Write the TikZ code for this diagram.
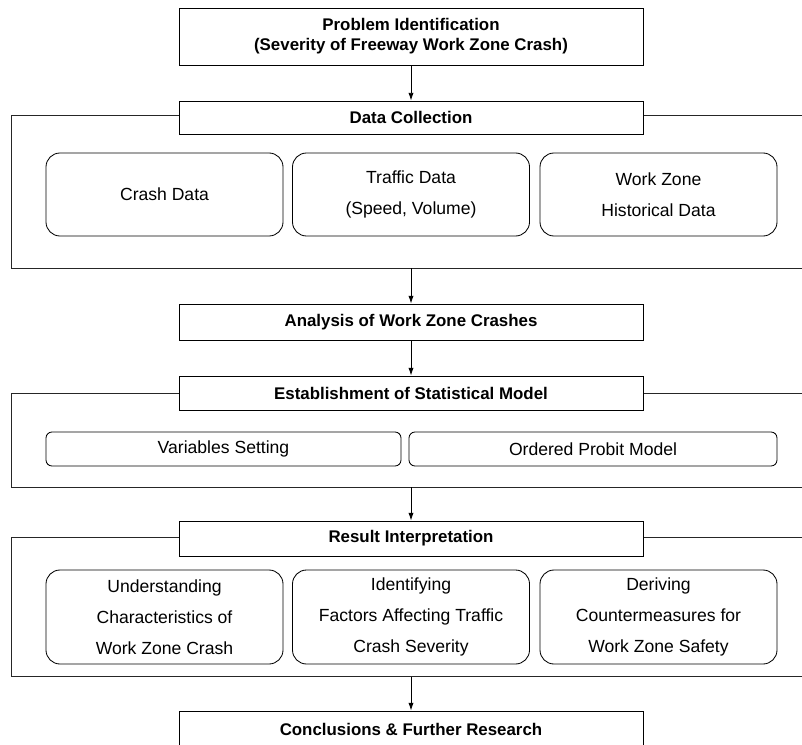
\documentclass[tikz,border=0pt]{standalone}
\usepackage{fontspec}
\setmainfont{Liberation Sans}
\usetikzlibrary{arrows.meta,positioning}

\begin{document}
\begin{tikzpicture}[x=0.25mm, y=-0.25mm, every node/.style={align=center,inner sep=0pt},
  box/.style={draw=black,fill=white,line width=0.7pt,minimum width=116mm,font=\fontsize{12}{14.2}\selectfont\bfseries},
  sub/.style={draw=black,fill=white,line width=0.6pt,rounded corners=3.5mm,minimum width=59.25mm,font=\fontsize{12.5}{22}\selectfont},
  grp/.style={draw=black!85,line width=0.7pt,minimum width=199.5mm},
  arr/.style={-{Latex[length=1.9mm,width=1.3mm]},line width=0.6pt}]
  \path[use as bounding box,clip] (0,0) rectangle (802,744);
  % group frames
  \node[grp,minimum height=38.25mm] (dcgrp) at (411,191.5) {};
  \node[grp,minimum height=23.5mm] (smgrp) at (411,440) {};
  \node[grp,minimum height=34.75mm] (rigrp) at (411,606.5) {};
  % main steps
  \node[box,minimum height=14.25mm] (prob) at (411,36.5) {Problem Identification\\(Severity of Freeway Work Zone Crash)};
  \node[box,minimum height=8.25mm] (collect) at (411,117.5) {Data Collection};
  \node[box,minimum height=9mm] (analysis) at (411,322) {Analysis of Work Zone Crashes};
  \node[box,minimum height=8.5mm] (model) at (411,393) {Establishment of Statistical Model};
  \node[box,minimum height=8.75mm] (result) at (411,538.5) {Result Interpretation};
  \node[box,minimum height=9mm] (concl) at (411,729) {Conclusions \& Further Research};
  % data sources
  \node[sub,minimum height=20.75mm] (crash) at (164.5,194.5) {Crash Data};
  \node[sub,minimum height=20.75mm] (traffic) at (411,194.5) {Traffic Data\\(Speed, Volume)};
  \node[sub,minimum height=20.75mm] (wzdata) at (658.5,194.5) {Work Zone\\Historical Data};
  % model parts
  \node[sub,rounded corners=1.5mm,minimum width=88.75mm,minimum height=8.5mm] (vars) at (223.5,449) {Variables Setting};
  \node[sub,rounded corners=1.5mm,minimum width=92mm,minimum height=8.5mm] (probit) at (593,449) {Ordered Probit Model};
  % outcomes
  \node[sub,minimum height=23.5mm] (under) at (164.5,617) {Understanding\\Characteristics of\\Work Zone Crash};
  \node[sub,minimum height=23.5mm] (ident) at (411,617) {Identifying\\Factors Affecting Traffic\\Crash Severity};
  \node[sub,minimum height=23.5mm] (derive) at (658.5,617) {Deriving\\Countermeasures for\\Work Zone Safety};
  % flow
  \draw[arr] (prob)--(collect);
  \draw[arr] (dcgrp.south)--(analysis);
  \draw[arr] (analysis)--(model);
  \draw[arr] (smgrp.south)--(result);
  \draw[arr] (rigrp.south)--(concl);
\end{tikzpicture}
\end{document}
